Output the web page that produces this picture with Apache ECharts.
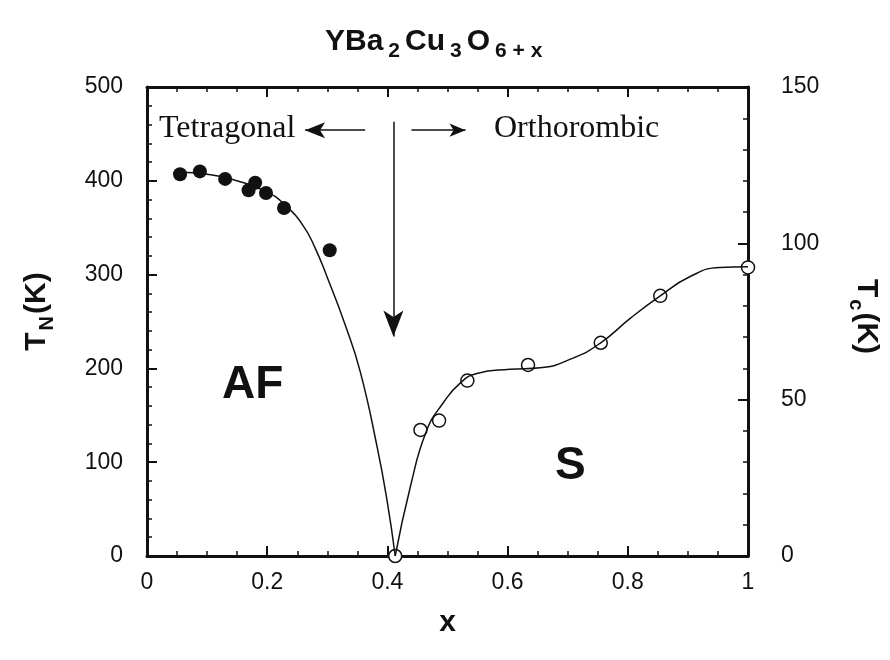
<!DOCTYPE html>
<html>
<head>
<meta charset="utf-8">
<script src="https://cdn.jsdelivr.net/npm/echarts@6/dist/echarts.min.js"></script>
<style>
  html, body { margin: 0; padding: 0; background: #fff; }
  #main { width: 890px; height: 660px; }
</style>
</head>
<body>
<div id="main"></div>
<script>
var myChart = echarts.init(document.getElementById('main'));

// Neel temperature, filled dots (left axis, K)
const afX = [0.055, 0.088, 0.13, 0.169, 0.18, 0.198, 0.228, 0.304];
const afT = [407, 410, 402, 390, 398, 387, 371, 326];
// guide curve through the AF data
const afCurveX = [0.055, 0.10, 0.15, 0.20, 0.23, 0.26, 0.28, 0.30, 0.33, 0.355, 0.383, 0.40, 0.413];
const afCurveT = [409, 407, 400, 388, 374, 352, 328, 297, 246, 196, 116, 57, 0];
// superconducting Tc, open circles (right axis, K)
const scX = [0.413, 0.455, 0.486, 0.533, 0.634, 0.755, 0.854, 1.0];
const scT = [0, 40.3, 43.3, 56.1, 61.1, 68.2, 83.2, 92.3];
const scCurveX = [0.413, 0.438, 0.465, 0.493, 0.521, 0.549, 0.604, 0.654, 0.709, 0.755, 0.804, 0.854, 0.903, 0.953, 1.0];
const scCurveT = [0, 22, 40, 49, 55.3, 58.4, 59.7, 60.2, 63.3, 68.2, 76, 83.2, 89.3, 92.3, 92.5];

const xTicks = [0, 0.2, 0.4, 0.6, 0.8, 1];

const sans = 'Liberation Sans, Arial, sans-serif';
const serif = 'Liberation Serif, Times New Roman, serif';
const ink = '#111';

function pairs(xs, ys) {
    return xs.map(function (x, i) { return [x, ys[i]]; });
}

function boxAxis(extra) {
    let ax = {
        axisLine: { show: true, onZero: false, lineStyle: { color: ink, width: 3 } },
        axisTick: { show: true, inside: true, length: 10, lineStyle: { color: ink, width: 2 } },
        minorTick: { show: true, splitNumber: 5, length: 5, lineStyle: { color: ink, width: 1.5 } },
        splitLine: { show: false },
        axisLabel: { color: ink, fontFamily: sans, fontSize: 23 }
    };
    return Object.assign(ax, extra);
}

const nameRich = {
    b: { fontFamily: sans, fontWeight: 'bold', fontSize: 30, color: ink },
    s: { fontFamily: sans, fontWeight: 'bold', fontSize: 20, color: ink, padding: [20, 2, 0, 2] }
};

let option = {
    backgroundColor: '#fff',
    animation: false,
    title: {
        text: '{b|YBa}{s|2}{b|Cu}{s|3}{b|O}{s|6 + x}',
        left: 318,
        top: 16,
        textStyle: {
            rich: {
                b: { fontFamily: sans, fontWeight: 'bold', fontSize: 30, color: ink, padding: [0, 2, 0, 2] },
                s: { fontFamily: sans, fontWeight: 'bold', fontSize: 21, color: ink, padding: [20, 3, 0, 3] }
            }
        }
    },
    grid: { left: 147, right: 142, top: 87, bottom: 104 },
    xAxis: [
        boxAxis({
            type: 'value', min: 0, max: 1, interval: 0.2, position: 'bottom',
            minorTick: { show: true, splitNumber: 4, length: 5, lineStyle: { color: ink, width: 1.5 } },
            axisLabel: { color: ink, fontFamily: sans, fontSize: 23, margin: 15,
                formatter: function (v) { return xTicks.indexOf(+v.toFixed(1)) >= 0 ? String(+v.toFixed(1)) : ''; } },
            name: 'x', nameLocation: 'middle', nameGap: 52,
            nameTextStyle: { fontFamily: sans, fontWeight: 'bold', fontSize: 30, color: ink }
        }),
        boxAxis({
            type: 'value', min: 0, max: 1, interval: 0.2, position: 'top',
            minorTick: { show: true, splitNumber: 4, length: 5, lineStyle: { color: ink, width: 1.5 } },
            axisLabel: { show: false }
        })
    ],
    yAxis: [
        boxAxis({
            type: 'value', min: 0, max: 500, interval: 100, position: 'left',
            axisLabel: { color: ink, fontFamily: sans, fontSize: 23, margin: 24 },
            name: '{b|T}{s|N}{b|(K)}', nameLocation: 'middle', nameGap: 90, nameRotate: 90,
            nameTextStyle: { rich: nameRich, padding: [0, 0, 0, 20] }
        }),
        boxAxis({
            type: 'value', min: 0, max: 150, interval: 50, position: 'right',
            axisLabel: { color: ink, fontFamily: sans, fontSize: 23, margin: 33 },
            name: '{b|T}{s|c}{b|(K)}', nameLocation: 'middle', nameGap: 98, nameRotate: -90,
            nameTextStyle: { rich: nameRich, padding: [0, 10, 0, 0] }
        })
    ],
    graphic: [
        { type: 'text', left: 159, top: 113, style: { text: 'Tetragonal', font: '32px ' + serif, fill: ink } },
        { type: 'text', left: 494, top: 113, style: { text: 'Orthorombic', font: '32px ' + serif, fill: ink } },
        { type: 'text', left: 222, top: 362, style: { text: 'AF', font: 'bold 46px ' + sans, fill: ink } },
        { type: 'text', left: 555, top: 443, style: { text: 'S', font: 'bold 46px ' + sans, fill: ink } }
    ],
    series: [
        {
            name: 'AF curve',
            type: 'line',
            data: pairs(afCurveX, afCurveT),
            smooth: 0.5,
            showSymbol: false,
            lineStyle: { color: ink, width: 1.5 },
            silent: true,
            markLine: {
                silent: true,
                label: { show: false },
                lineStyle: { color: ink, width: 1.5, type: 'solid' },
                data: [
                    [{ coord: [0.41, 463], symbol: 'none' }, { coord: [0.41, 234], symbol: 'arrow', symbolSize: [15, 26] }],
                    [{ coord: [0.363, 454], symbol: 'none' }, { coord: [0.263, 454], symbol: 'arrow', symbolSize: [12, 20] }],
                    [{ coord: [0.44, 454], symbol: 'none' }, { coord: [0.53, 454], symbol: 'arrow', symbolSize: [10, 16] }]
                ]
            }
        },
        {
            name: 'TN',
            type: 'scatter',
            data: pairs(afX, afT),
            symbol: 'circle',
            symbolSize: 14,
            itemStyle: { color: ink, opacity: 1 },
            silent: true
        },
        {
            name: 'Tc curve',
            type: 'line',
            yAxisIndex: 1,
            data: pairs(scCurveX, scCurveT),
            smooth: 0.5,
            showSymbol: false,
            lineStyle: { color: ink, width: 1.5 },
            silent: true
        },
        {
            name: 'Tc',
            type: 'scatter',
            yAxisIndex: 1,
            data: pairs(scX, scT),
            symbol: 'circle',
            symbolSize: 13,
            itemStyle: { color: '#fff', borderColor: ink, borderWidth: 1.5, opacity: 1 },
            silent: true
        }
    ]
};

myChart.setOption(option);
</script>
</body>
</html>
